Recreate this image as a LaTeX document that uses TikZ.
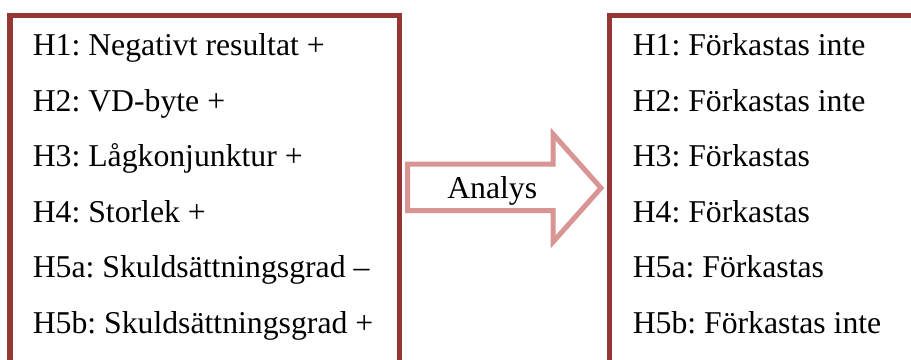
\documentclass[tikz,border=0pt]{standalone}
\usepackage{fontspec}
\setmainfont{Liberation Serif}
\frenchspacing
\definecolor{boxred}{HTML}{943634}
\definecolor{arrowpink}{HTML}{D99594}
\begin{document}
\begin{tikzpicture}[x=0.75pt,y=-0.75pt,
  boxline/.style={draw=boxred,line width=4.1pt},
  arrowline/.style={draw=arrowpink,line width=3.75pt,fill=white,line join=miter},
  txt/.style={anchor=base west,inner sep=0pt,font=\rmfamily\fontsize{23.8}{28}\selectfont}]
\useasboundingbox (0,0) rectangle (911,360);
\clip (0,0) rectangle (911,360);
% boxes
\draw[boxline] (10,370) -- (10,15.5) -- (399.5,15.5) -- (399.5,370);
\draw[boxline] (609.5,370) -- (609.5,15.5) -- (920,15.5);
% arrow
\draw[arrowline] (407.5,164) -- (553,164) -- (553,134) -- (601,188) -- (553,242) -- (553,210.5) -- (407.5,210.5) -- cycle;
\node[txt] (an) at (447,198.3) {Analys};
% left texts
\node[txt] (l1) at (32.5,56) {H1: Negativt resultat +};
\node[txt] (l2) at (32.5,111.4) {H2: VD-byte +};
\node[txt] (l3) at (32.5,166.9) {H3: Lågkonjunktur +};
\node[txt] (l4) at (32.5,222.3) {H4: Storlek +};
\node[txt] (l5) at (32.5,277.7) {H5a: Skuldsättningsgrad –};
\node[txt] (l6) at (32.5,333.2) {H5b: Skuldsättningsgrad +};
% right texts
\node[txt] (r1) at (632.5,56) {H1: Förkastas inte};
\node[txt] (r2) at (632.5,111.4) {H2: Förkastas inte};
\node[txt] (r3) at (632.5,166.9) {H3: Förkastas};
\node[txt] (r4) at (632.5,222.3) {H4: Förkastas};
\node[txt] (r5) at (632.5,277.7) {H5a: Förkastas};
\node[txt] (r6) at (632.5,333.2) {H5b: Förkastas inte};
\end{tikzpicture}
\end{document}
